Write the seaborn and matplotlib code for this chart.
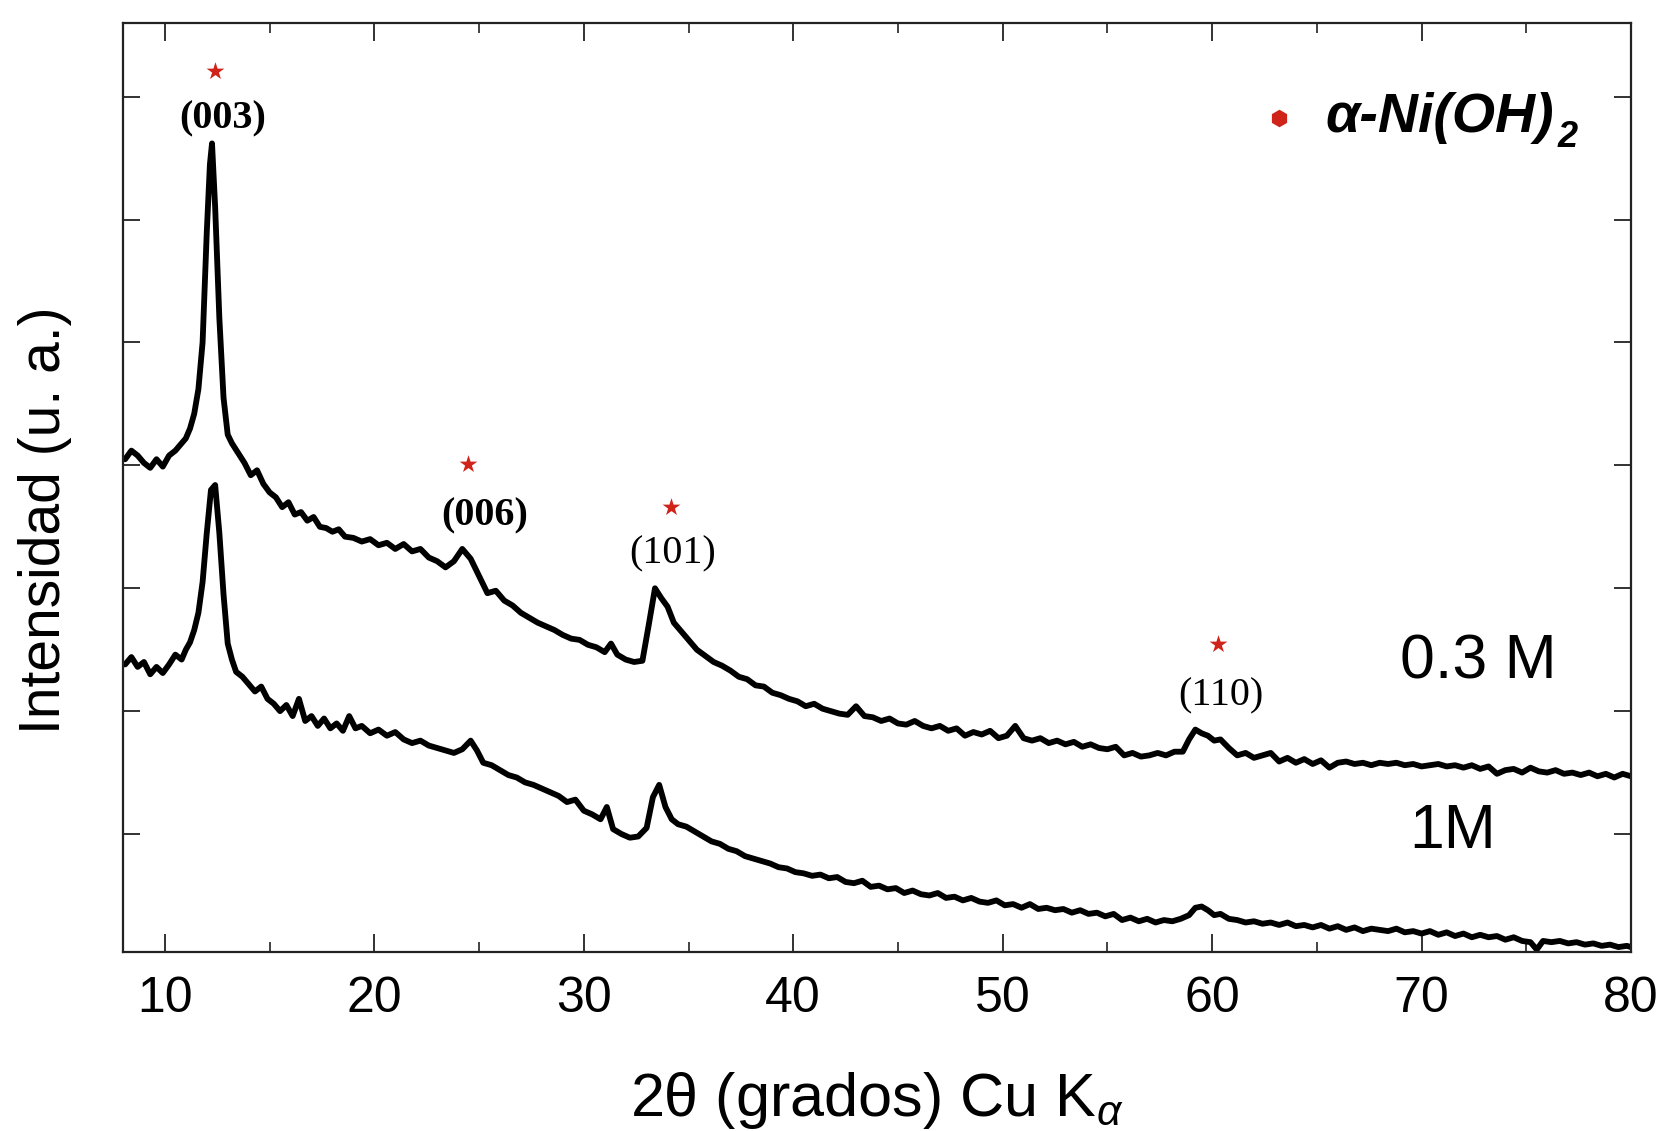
import matplotlib
matplotlib.use("Agg")
import matplotlib.pyplot as plt
import seaborn as sns
import pandas as pd

# ---------------- data ----------------
two_theta_03 = [8.1, 8.4, 8.7, 9.0, 9.3, 9.6, 9.9, 10.2, 10.5, 10.8, 11.0, 11.2, 11.4, 11.6,
                11.8, 12.0, 12.15, 12.25, 12.4, 12.6, 12.8, 13.0, 13.2, 13.5, 13.8, 14.1, 14.4,
                14.7, 15.0, 15.3, 15.6, 15.9, 16.2, 16.5, 16.8, 17.1, 17.4, 17.7, 18.0, 18.3,
                18.6, 19.0, 19.4, 19.8, 20.2, 20.6, 21.0, 21.4, 21.8, 22.2, 22.6, 23.0, 23.4,
                23.8, 24.2, 24.6, 25.0, 25.4, 25.8, 26.2, 26.6, 27.0, 27.4, 27.8, 28.2, 28.6,
                29.0, 29.4, 29.8, 30.2, 30.6, 31.0, 31.3, 31.6, 32.0, 32.4, 32.8, 33.1, 33.4,
                33.7, 34.0, 34.3, 34.6, 35.0, 35.4, 35.8, 36.2, 36.6, 37.0, 37.4, 37.8, 38.2,
                38.6, 39.0, 39.4, 39.8, 40.2, 40.6, 41.0, 41.4, 41.8, 42.2, 42.6, 43.0, 43.4,
                43.8, 44.2, 44.6, 45.0, 45.4, 45.8, 46.2, 46.6, 47.0, 47.4, 47.8, 48.2, 48.6,
                49.0, 49.4, 49.8, 50.2, 50.6, 51.0, 51.4, 51.8, 52.2, 52.6, 53.0, 53.4, 53.8,
                54.2, 54.6, 55.0, 55.4, 55.8, 56.2, 56.6, 57.0, 57.4, 57.8, 58.2, 58.6, 58.9,
                59.2, 59.5, 59.8, 60.1, 60.4, 60.8, 61.2, 61.6, 62.0, 62.4, 62.8, 63.2, 63.6,
                64.0, 64.4, 64.8, 65.2, 65.6, 66.0, 66.4, 66.8, 67.2, 67.6, 68.0, 68.4, 68.8,
                69.2, 69.6, 70.0, 70.4, 70.8, 71.2, 71.6, 72.0, 72.4, 72.8, 73.2, 73.6, 74.0,
                74.4, 74.8, 75.2, 75.6, 76.0, 76.4, 76.8, 77.2, 77.6, 78.0, 78.4, 78.8, 79.2,
                79.6, 80.0]
intensity_03 = [4.05, 4.12, 4.08, 4.02, 3.98, 4.05, 3.99, 4.08, 4.12, 4.18, 4.22, 4.30, 4.42, 4.62,
                5.00, 5.90, 6.45, 6.62, 6.10, 5.20, 4.55, 4.25, 4.18, 4.10, 4.02, 3.92, 3.96,
                3.85, 3.78, 3.74, 3.66, 3.70, 3.60, 3.62, 3.55, 3.58, 3.50, 3.49, 3.46, 3.48,
                3.42, 3.41, 3.38, 3.40, 3.35, 3.37, 3.32, 3.36, 3.30, 3.32, 3.25, 3.22, 3.17,
                3.22, 3.32, 3.24, 3.10, 2.96, 2.98, 2.90, 2.86, 2.80, 2.76, 2.72, 2.69, 2.66,
                2.62, 2.59, 2.58, 2.54, 2.52, 2.48, 2.55, 2.46, 2.42, 2.40, 2.41, 2.70, 3.00,
                2.92, 2.85, 2.72, 2.66, 2.58, 2.50, 2.45, 2.40, 2.37, 2.33, 2.28, 2.26, 2.21,
                2.20, 2.15, 2.13, 2.10, 2.08, 2.04, 2.06, 2.02, 2.00, 1.98, 1.97, 2.04, 1.96,
                1.95, 1.92, 1.94, 1.90, 1.89, 1.92, 1.88, 1.86, 1.88, 1.84, 1.86, 1.80, 1.83,
                1.81, 1.84, 1.78, 1.80, 1.88, 1.78, 1.76, 1.78, 1.74, 1.76, 1.73, 1.75, 1.71,
                1.73, 1.70, 1.69, 1.71, 1.64, 1.66, 1.63, 1.64, 1.66, 1.64, 1.67, 1.67, 1.77,
                1.85, 1.82, 1.80, 1.76, 1.77, 1.70, 1.64, 1.66, 1.62, 1.64, 1.66, 1.59, 1.62,
                1.58, 1.61, 1.57, 1.60, 1.54, 1.58, 1.59, 1.57, 1.58, 1.56, 1.58, 1.57, 1.58,
                1.56, 1.57, 1.55, 1.56, 1.57, 1.55, 1.56, 1.54, 1.56, 1.53, 1.55, 1.49, 1.52,
                1.53, 1.50, 1.54, 1.51, 1.50, 1.52, 1.49, 1.50, 1.48, 1.50, 1.47, 1.49, 1.46,
                1.49, 1.47]

two_theta_1 = [8.1, 8.4, 8.7, 9.0, 9.3, 9.6, 9.9, 10.2, 10.5, 10.8, 11.0, 11.2, 11.4, 11.6,
               11.8, 12.0, 12.2, 12.4, 12.6, 12.8, 13.0, 13.2, 13.4, 13.7, 14.0, 14.3, 14.6,
               14.9, 15.2, 15.5, 15.8, 16.1, 16.4, 16.7, 17.0, 17.3, 17.6, 17.9, 18.2, 18.5,
               18.8, 19.1, 19.4, 19.8, 20.2, 20.6, 21.0, 21.4, 21.8, 22.2, 22.6, 23.0, 23.4,
               23.8, 24.2, 24.6, 24.9, 25.2, 25.6, 26.0, 26.4, 26.8, 27.2, 27.6, 28.0, 28.4,
               28.8, 29.2, 29.6, 30.0, 30.4, 30.8, 31.1, 31.4, 31.8, 32.2, 32.6, 33.0, 33.3,
               33.6, 33.9, 34.2, 34.5, 34.9, 35.3, 35.7, 36.1, 36.5, 36.9, 37.3, 37.7, 38.1,
               38.5, 38.9, 39.3, 39.7, 40.1, 40.5, 40.9, 41.3, 41.7, 42.1, 42.5, 42.9, 43.3,
               43.7, 44.1, 44.5, 44.9, 45.3, 45.7, 46.1, 46.5, 46.9, 47.3, 47.7, 48.1, 48.5,
               48.9, 49.3, 49.7, 50.1, 50.5, 50.9, 51.3, 51.7, 52.1, 52.5, 52.9, 53.3, 53.7,
               54.1, 54.5, 54.9, 55.3, 55.7, 56.1, 56.5, 56.9, 57.3, 57.7, 58.1, 58.5, 58.9,
               59.2, 59.5, 59.8, 60.1, 60.4, 60.8, 61.2, 61.6, 62.0, 62.4, 62.8, 63.2, 63.6,
               64.0, 64.4, 64.8, 65.2, 65.6, 66.0, 66.4, 66.8, 67.2, 67.6, 68.0, 68.4, 68.8,
               69.2, 69.6, 70.0, 70.4, 70.8, 71.2, 71.6, 72.0, 72.4, 72.8, 73.2, 73.6, 74.0,
               74.4, 74.8, 75.2, 75.5, 75.8, 76.2, 76.6, 77.0, 77.4, 77.8, 78.2, 78.6, 79.0,
               79.4, 79.8, 80.0]
intensity_1 = [2.38, 2.44, 2.36, 2.40, 2.30, 2.36, 2.31, 2.38, 2.46, 2.42, 2.50, 2.56, 2.66, 2.80,
               3.05, 3.45, 3.80, 3.84, 3.45, 2.95, 2.55, 2.42, 2.32, 2.28, 2.22, 2.16, 2.20,
               2.10, 2.06, 2.00, 2.05, 1.96, 2.10, 1.92, 1.96, 1.88, 1.94, 1.86, 1.90, 1.84,
               1.96, 1.86, 1.88, 1.82, 1.85, 1.80, 1.83, 1.77, 1.74, 1.76, 1.72, 1.70, 1.68,
               1.66, 1.69, 1.76, 1.68, 1.58, 1.56, 1.52, 1.48, 1.46, 1.42, 1.40, 1.37, 1.34,
               1.31, 1.26, 1.28, 1.19, 1.16, 1.12, 1.22, 1.04, 1.00, 0.97, 0.98, 1.05, 1.30,
               1.40, 1.22, 1.12, 1.08, 1.06, 1.02, 0.98, 0.94, 0.92, 0.88, 0.86, 0.82, 0.80,
               0.78, 0.76, 0.73, 0.72, 0.69, 0.68, 0.66, 0.67, 0.64, 0.65, 0.61, 0.60, 0.62,
               0.57, 0.58, 0.55, 0.56, 0.52, 0.54, 0.51, 0.50, 0.52, 0.48, 0.49, 0.46, 0.48,
               0.45, 0.44, 0.46, 0.42, 0.43, 0.40, 0.43, 0.39, 0.40, 0.38, 0.39, 0.36, 0.38,
               0.35, 0.36, 0.33, 0.35, 0.30, 0.32, 0.29, 0.31, 0.28, 0.30, 0.29, 0.31, 0.34,
               0.40, 0.41, 0.38, 0.34, 0.35, 0.31, 0.30, 0.28, 0.29, 0.27, 0.28, 0.26, 0.28,
               0.25, 0.26, 0.24, 0.26, 0.23, 0.25, 0.22, 0.24, 0.21, 0.23, 0.22, 0.21, 0.23,
               0.20, 0.21, 0.19, 0.21, 0.18, 0.20, 0.17, 0.19, 0.16, 0.18, 0.16, 0.17, 0.14,
               0.16, 0.13, 0.12, 0.06, 0.13, 0.12, 0.13, 0.11, 0.12, 0.10, 0.11, 0.09, 0.10,
               0.08, 0.09, 0.08]

peak_labels = ["(003)", "(006)", "(101)", "(110)"]
peak_star_x = [12.39, 24.49, 34.15, 60.28]
peak_star_y = [7.21, 4.01, 3.66, 2.55]
peak_label_x = [12.75, 25.25, 34.25, 60.43]
peak_label_y = [6.82, 3.59, 3.28, 2.12]
peak_label_weight = ["bold", "bold", "normal", "normal"]

sample_labels = ["0.3 M", "1M"]
sample_label_x = [72.7, 71.5]
sample_label_y = [2.40, 1.02]

phase_label = "α-Ni(OH)"
phase_marker_x = [63.2]
phase_marker_y = [6.83]

x_major_ticks = [10, 20, 30, 40, 50, 60, 70, 80]
x_minor_ticks = [15, 25, 35, 45, 55, 65, 75]
y_ticks = [1, 2, 3, 4, 5, 6, 7]

# ---------------- styling ----------------
sns.set_style("ticks")
plt.rcParams["font.family"] = ["Liberation Sans", "DejaVu Sans"]
plt.rcParams["mathtext.fontset"] = "custom"
plt.rcParams["mathtext.rm"] = "Liberation Sans"
plt.rcParams["mathtext.it"] = "Liberation Sans:italic"
plt.rcParams["text.color"] = "black"
plt.rcParams["axes.labelcolor"] = "black"
plt.rcParams["xtick.color"] = "black"
plt.rcParams["ytick.color"] = "black"

W, H = 1663, 1131
fig = plt.figure(figsize=(W / 100, H / 100), dpi=100)
ax = fig.add_axes([123 / W, 1 - 952 / H, (1631 - 123) / W, (952 - 23) / H])

df03 = pd.DataFrame({"x": two_theta_03, "y": intensity_03})
df1 = pd.DataFrame({"x": two_theta_1, "y": intensity_1})
sns.lineplot(data=df03, x="x", y="y", ax=ax, color="black", lw=4.2,
             estimator=None, sort=False)
sns.lineplot(data=df1, x="x", y="y", ax=ax, color="black", lw=4.2,
             estimator=None, sort=False)

# red stars marking alpha-Ni(OH)2 reflections
ax.scatter(peak_star_x, peak_star_y, marker="*", s=180, color="#d0231a",
           linewidths=0, zorder=5)
for lab, lx, ly, w in zip(peak_labels, peak_label_x, peak_label_y, peak_label_weight):
    ax.text(lx, ly, lab, ha="center", va="center", fontsize=29,
            family=["Liberation Serif", "DejaVu Serif"], fontweight=w, color="black")

# legend-like marker + label
ax.scatter(phase_marker_x, phase_marker_y, marker="h", s=160, color="#d0231a",
           linewidths=0, zorder=5)
t = ax.text(65.4, 6.83, phase_label, ha="left", va="center", fontsize=40,
            fontweight="bold", fontstyle="italic", color="black")
ax.annotate("2", xy=(1.0, 0.12), xycoords=t, xytext=(3, 0), textcoords="offset points",
            ha="left", va="center", fontsize=26, fontweight="bold",
            fontstyle="italic", color="black")

for lab, lx, ly in zip(sample_labels, sample_label_x, sample_label_y):
    ax.text(lx, ly, lab, ha="center", va="center", fontsize=45, color="black")

# axes
ax.set_xlim(8, 80)
ax.set_ylim(0.04, 7.6)
ax.set_xticks(x_major_ticks)
ax.set_xticks(x_minor_ticks, minor=True)
ax.set_yticks(y_ticks)
ax.tick_params(which="both", direction="in", top=True, right=True, bottom=True,
               left=True, labelleft=False, color="#222222")
ax.tick_params(axis="x", which="major", length=13, width=1.3, labelsize=36, pad=17)
ax.tick_params(axis="x", which="minor", length=7, width=1.2)
ax.tick_params(axis="y", which="major", length=12, width=1.3)
for s in ax.spines.values():
    s.set_linewidth(1.6)
    s.set_color("#222222")

ax.set_xlabel("2θ (grados) Cu K$_{\\alpha}$", fontsize=44, labelpad=35)
ax.set_ylabel("Intensidad (u. a.)", fontsize=41)
ax.yaxis.set_label_coords(-0.034, 0.465)

fig.savefig("out.png", dpi=100)
